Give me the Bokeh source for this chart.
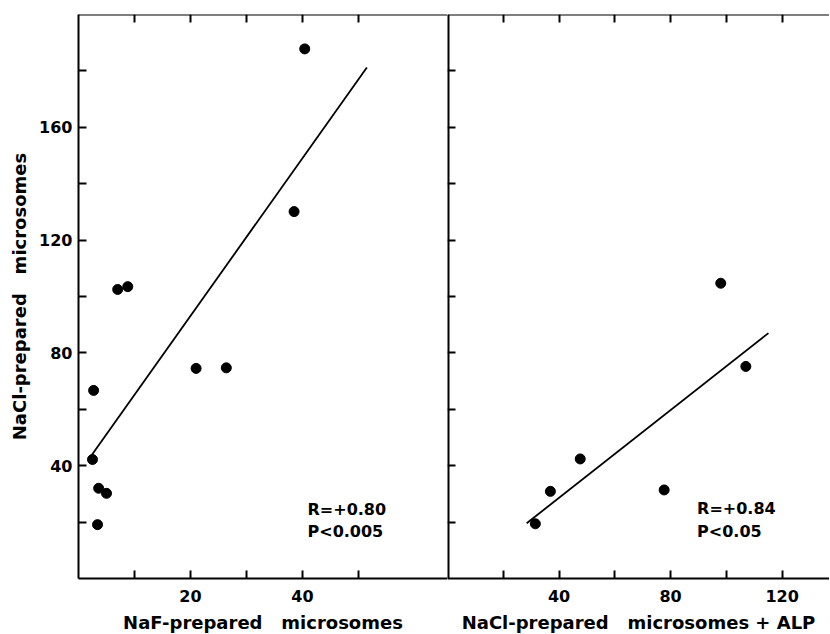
from bokeh.plotting import figure
from bokeh.layouts import row
from bokeh.models import LinearAxis, FixedTicker, Range1d, Label
from bokeh.embed import file_html
from bokeh.resources import INLINE

# ---- data: left panel (NaF-prepared vs NaCl-prepared microsomes) ----
naf_x = [40.4, 38.5, 7.0, 8.8, 2.7, 21.0, 26.4, 2.5, 3.6, 5.0, 3.4]
nacl_left_y = [187.8, 130.1, 102.5, 103.5, 66.7, 74.5, 74.7, 42.2, 32.0, 30.2, 19.1]
fit_left_x = [2.4, 51.5]
fit_left_y = [43.9, 181.2]

# ---- data: right panel (NaCl-prepared + ALP vs NaCl-prepared microsomes) ----
alp_x = [98.0, 107.0, 47.6, 36.9, 77.7, 31.5]
nacl_right_y = [104.7, 75.2, 42.4, 30.9, 31.4, 19.4]
fit_right_x = [28.4, 115.1]
fit_right_y = [19.6, 87.0]

# ---- ticks ----
y_ticks = [20, 40, 60, 80, 100, 120, 140, 160, 180]
y_tick_labels = ["", "40", "", "80", "", "120", "", "160", ""]
left_x_ticks = [10, 20, 30, 40, 50]
left_x_tick_labels = ["", "20", "", "40", ""]
right_x_ticks = [20, 40, 60, 80, 100, 120]
right_x_tick_labels = ["", "40", "", "80", "", "120"]

left_stats = ["R=+0.80", "P<0.005"]
right_stats = ["R=+0.84", "P<0.05"]

left_xlabel = "NaF-prepared\u00a0\u00a0\u00a0microsomes"
right_xlabel = "NaCl-prepared\u00a0\u00a0\u00a0microsomes\u00a0+\u00a0ALP"
ylabel = "NaCl-prepared\u00a0\u00a0\u00a0microsomes"

FONT = "DejaVu Sans"


def make_axis(ticks, labels, show_labels, label=None, fixed=None, standoff=11,
              label_standoff=7, line_width=2):
    ax = LinearAxis(ticker=FixedTicker(ticks=ticks))
    if show_labels:
        ax.major_label_overrides = {t: l for t, l in zip(ticks, labels)}
        ax.major_label_text_font_size = "16px"
        ax.major_label_standoff = standoff
    else:
        ax.major_label_overrides = {t: "" for t in ticks}
        ax.major_label_text_font_size = "0px"
        ax.major_label_standoff = 0
    if fixed is not None:
        ax.fixed_location = fixed
    ax.major_label_text_font = FONT
    ax.major_label_text_font_style = "bold"
    ax.major_label_text_color = "black"
    ax.major_tick_in = 8
    ax.major_tick_out = 0
    ax.minor_tick_in = 0
    ax.minor_tick_out = 0
    ax.major_tick_line_width = 2
    ax.major_tick_line_color = "black"
    ax.axis_line_width = line_width
    ax.axis_line_color = "black"
    if label is not None:
        ax.axis_label = label
        ax.axis_label_text_font = FONT
        ax.axis_label_text_font_style = "bold"
        ax.axis_label_text_font_size = "18px"
        ax.axis_label_text_color = "black"
        ax.axis_label_standoff = label_standoff
    return ax


def stat_labels(p, texts, x, ys):
    for t, y in zip(texts, ys):
        p.add_layout(Label(x=x, y=y, text=t, text_font=FONT, text_font_style="bold",
                           text_font_size="16px", text_color="black",
                           text_baseline="middle", text_align="left"))


# ---- left panel ----
p1 = figure(frame_width=369, frame_height=564,
            x_range=Range1d(0, 65.9), y_range=Range1d(0, 200),
            output_backend="svg", toolbar_location=None,
            x_axis_location=None, y_axis_location=None,
            min_border_left=78, min_border_right=0, min_border_top=14, min_border_bottom=0,
            background_fill_color="white", border_fill_color="white")
p1.outline_line_color = None
p1.add_layout(make_axis(y_ticks, y_tick_labels, True, ylabel, standoff=6, label_standoff=6), "left")
p1.add_layout(make_axis(left_x_ticks, left_x_tick_labels, True, left_xlabel), "below")
p1.add_layout(make_axis(left_x_ticks, left_x_tick_labels, False, fixed=200), "above")
p1.line(fit_left_x, fit_left_y, line_color="black", line_width=1.8)
p1.scatter(naf_x, nacl_left_y, size=10, marker="circle", fill_color="black", line_color="black")
stat_labels(p1, left_stats, 40.9, [24.5, 16.7])

# ---- right panel ----
p2 = figure(frame_width=382, frame_height=564,
            x_range=Range1d(0, 137.0), y_range=Range1d(0, 200),
            output_backend="svg", toolbar_location=None,
            x_axis_location=None, y_axis_location=None,
            min_border_left=0, min_border_right=0, min_border_top=14, min_border_bottom=0,
            background_fill_color="white", border_fill_color="white")
p2.outline_line_color = None
p2.add_layout(make_axis(y_ticks, y_tick_labels, False, fixed=0, line_width=4), "left")
p2.add_layout(make_axis(right_x_ticks, right_x_tick_labels, True, right_xlabel), "below")
p2.add_layout(make_axis(right_x_ticks, right_x_tick_labels, False, fixed=200), "above")
p2.line(fit_right_x, fit_right_y, line_color="black", line_width=1.8)
p2.scatter(alp_x, nacl_right_y, size=10, marker="circle", fill_color="black", line_color="black")
stat_labels(p2, right_stats, 89.5, [24.8, 16.7])

for p in (p1, p2):
    p.xgrid.visible = False
    p.ygrid.visible = False

layout = row(p1, p2)
open("out.html", "w").write(file_html(layout, INLINE))
